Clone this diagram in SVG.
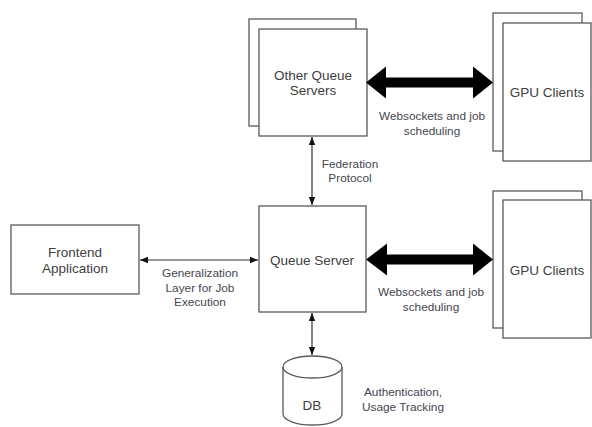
<svg xmlns="http://www.w3.org/2000/svg" width="592" height="427" viewBox="0 0 592 427">
<defs>
<style>
.box{fill:#fff;stroke:#5a5a5a;stroke-width:1.3}
.nt{font-family:"Liberation Sans",Arial,sans-serif;font-size:13.5px;fill:#404040;text-anchor:middle}
.lt{font-family:"Liberation Sans",Arial,sans-serif;font-size:11.8px;fill:#454550;text-anchor:middle}
.thin{stroke:#333;stroke-width:1.2;fill:none}
.thick{fill:#000}
</style>
<marker id="ah" viewBox="0 0 8 8" refX="8" refY="4" markerWidth="8" markerHeight="8" markerUnits="userSpaceOnUse" orient="auto-start-reverse">
<path d="M0,0.8 L8,4 L0,7.2 Z" fill="#111"/>
</marker>
</defs>
<rect width="592" height="427" fill="#fff"/>
<g id="other-queue-servers">
<rect class="box" x="249" y="19" width="107" height="107"/>
<rect class="box" x="259" y="29" width="108" height="107"/>
<text class="nt" x="313" y="80">Other Queue</text>
<text class="nt" x="313" y="95">Servers</text>
</g>
<g id="gpu-clients-top">
<rect class="box" x="493" y="13" width="89" height="138"/>
<rect class="box" x="503" y="23" width="88" height="138"/>
<text class="nt" x="547" y="97">GPU Clients</text>
</g>
<g id="queue-server">
<rect class="box" x="259" y="206" width="107" height="106"/>
<text class="nt" x="312" y="265">Queue Server</text>
</g>
<g id="gpu-clients-bottom">
<rect class="box" x="493" y="191" width="89" height="137"/>
<rect class="box" x="503" y="200" width="88" height="138"/>
<text class="nt" x="547" y="275">GPU Clients</text>
</g>
<g id="frontend-application">
<rect class="box" x="11" y="225" width="128" height="69"/>
<text class="nt" x="75" y="257">Frontend</text>
<text class="nt" x="75" y="273">Application</text>
</g>
<g id="db">
<path class="box" d="M283,367 L283,414 A29.5,11 0 0 0 342,414 L342,367"/>
<ellipse class="box" cx="312.5" cy="367" rx="29.5" ry="11"/>
<text class="nt" x="312" y="410">DB</text>
</g>
<g id="connectors">
<polygon class="thick" points="366,82.5 386,66.5 386,77.5 473,77.5 473,66.5 493,82.5 473,98.5 473,87.5 386,87.5 386,98.5"/>
<polygon class="thick" points="366,259.5 387,243.5 387,254.5 473,254.5 473,243.5 493,259.5 473,275.5 473,264.5 387,264.5 387,275.5"/>
<line class="thin" x1="312" y1="137" x2="312" y2="205" marker-start="url(#ah)" marker-end="url(#ah)"/>
<line class="thin" x1="140" y1="260" x2="258" y2="260" marker-start="url(#ah)" marker-end="url(#ah)"/>
<line class="thin" x1="312" y1="313" x2="312" y2="355" marker-start="url(#ah)" marker-end="url(#ah)"/>
<text class="lt" x="432" y="120">Websockets and job</text>
<text class="lt" x="432" y="135">scheduling</text>
<text class="lt" x="431" y="296">Websockets and job</text>
<text class="lt" x="431" y="311">scheduling</text>
<text class="lt" x="350" y="168">Federation</text>
<text class="lt" x="350" y="182">Protocol</text>
<text class="lt" x="200" y="277">Generalization</text>
<text class="lt" x="200" y="292">Layer for Job</text>
<text class="lt" x="200" y="306">Execution</text>
<text class="lt" x="403" y="396">Authentication,</text>
<text class="lt" x="403" y="411">Usage Tracking</text>
</g>
</svg>
